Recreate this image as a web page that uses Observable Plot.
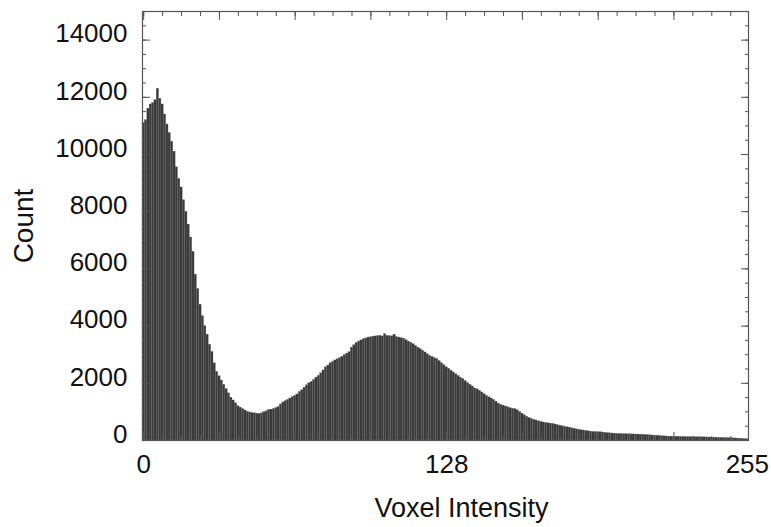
<!DOCTYPE html>
<html>
<head>
<meta charset="utf-8">
<script src="https://cdn.jsdelivr.net/npm/d3@7"></script>
<script src="https://cdn.jsdelivr.net/npm/@observablehq/plot@0.6"></script>
<style>
  html, body { margin: 0; padding: 0; background: #fff; }
</style>
</head>
<body>
<div id="chart"></div>
<script>
// Histogram counts for voxel intensities 0..255
const counts = [
  11100, 11200, 11600, 11750, 11800, 11900, 12300, 11950, 11750, 11400,
  11050, 10750, 10450, 10100, 9550, 9150, 8850, 8400, 8000, 7550,
  7100, 6600, 5800, 5300, 4750, 4350, 4000, 3700, 3350, 3100,
  2700, 2400, 2250, 2100, 1950, 1800, 1650, 1500, 1400, 1300,
  1200, 1150, 1100, 1050, 1000, 980, 960, 950, 940, 930,
  950, 990, 1020, 1070, 1080, 1100, 1130, 1170, 1260, 1330,
  1380, 1420, 1470, 1520, 1560, 1610, 1700, 1760, 1850, 1930,
  2000, 2050, 2120, 2200, 2260, 2350, 2450, 2560, 2620, 2700,
  2750, 2800, 2840, 2880, 2930, 2990, 3040, 3090, 3250, 3330,
  3410, 3460, 3500, 3540, 3570, 3600, 3610, 3630, 3640, 3650,
  3660, 3640, 3720, 3660, 3650, 3640, 3700, 3620, 3600, 3580,
  3560, 3510, 3460, 3420, 3370, 3310, 3250, 3200, 3140, 3080,
  3020, 2960, 2920, 2880, 2850, 2780, 2700, 2630, 2560, 2510,
  2440, 2380, 2320, 2260, 2200, 2150, 2080, 2010, 1950, 1890,
  1820, 1790, 1740, 1680, 1620, 1560, 1510, 1470, 1420, 1360,
  1290, 1250, 1220, 1190, 1160, 1130, 1110, 1100, 1060, 1000,
  940, 880, 830, 790, 750, 720, 700, 670, 650, 630,
  610, 600, 590, 580, 560, 540, 520, 500, 480, 465,
  450, 430, 410, 390, 370, 360, 350, 335, 320, 310,
  300, 295, 290, 290, 280, 270, 260, 250, 245, 240,
  233, 230, 225, 222, 220, 218, 215, 212, 210, 208,
  205, 200, 195, 190, 180, 175, 170, 165, 160, 150,
  145, 140, 138, 135, 132, 130, 128, 125, 122, 120,
  120, 118, 116, 115, 115, 116, 112, 110, 108, 105,
  102, 100, 98, 95, 92, 90, 88, 85, 80, 75,
  72, 68, 62, 56, 50, 45
];

// Axis tick values / labels
const xTickLabels = [0, 128, 255];
const xMinorTicks = d3.range(0, 256, 8);
const xMajorTicks = d3.range(0, 256, 32);
const yTickLabels = [0, 2000, 4000, 6000, 8000, 10000, 12000, 14000];
const yMinorTicks = d3.range(0, 15000, 500);
const yMajorTicks = yTickLabels;

const xLabel = "Voxel Intensity";
const yLabel = "Count";

const table = counts.map((c, i) => ({bin: i, count: c}));

const tickColor = "#555";
const font = "'Liberation Sans', Arial, Helvetica, sans-serif";
const blank = () => "";

const chart = Plot.plot({
  width: 771,
  height: 527,
  marginLeft: 142,
  marginRight: 23,
  marginTop: 11,
  marginBottom: 87,
  style: {fontFamily: font, fontSize: "26px", background: "#fff", color: "#111"},
  x: {domain: [-0.5, 255.5], axis: null},
  y: {domain: [0, 15000], axis: null},
  marks: [
    Plot.rectY(table, {
      x1: d => d.bin - 0.5,
      x2: d => d.bin + 0.5,
      y: "count",
      fill: "#3a3a3a",
      stroke: "#6a6a6a",
      strokeWidth: 0.25
    }),
    // inward minor/major ticks, all four sides
    Plot.axisX({anchor: "top", ticks: xMinorTicks, tickSize: 4, dy: 4, stroke: tickColor, tickFormat: blank, label: null}),
    Plot.axisX({anchor: "top", ticks: xMajorTicks, tickSize: 8, dy: 8, stroke: tickColor, tickFormat: blank, label: null}),
    Plot.axisX({anchor: "bottom", ticks: xMinorTicks, tickSize: 4, dy: -4, stroke: tickColor, tickFormat: blank, label: null}),
    Plot.axisX({anchor: "bottom", ticks: xMajorTicks, tickSize: 8, dy: -8, stroke: tickColor, tickFormat: blank, label: null}),
    Plot.axisY({anchor: "left", ticks: yMinorTicks, tickSize: 4, dx: 4, stroke: tickColor, tickFormat: blank, label: null}),
    Plot.axisY({anchor: "left", ticks: yMajorTicks, tickSize: 8, dx: 8, stroke: tickColor, tickFormat: blank, label: null}),
    Plot.axisY({anchor: "right", ticks: yMinorTicks, tickSize: 4, dx: -4, stroke: tickColor, tickFormat: blank, label: null}),
    Plot.axisY({anchor: "right", ticks: yMajorTicks, tickSize: 8, dx: -8, stroke: tickColor, tickFormat: blank, label: null}),
    // tick labels
    Plot.axisX({anchor: "bottom", ticks: xTickLabels, tickSize: 0, tickPadding: 14, fontSize: 26, tickFormat: d => String(d), label: null}),
    Plot.axisY({anchor: "left", ticks: yTickLabels, tickSize: 0, tickPadding: 15, dy: -6, fontSize: 26, tickFormat: d => String(d), label: null}),
    Plot.frame({stroke: tickColor, strokeWidth: 1.2}),
    // axis titles
    Plot.text([xLabel], {frameAnchor: "bottom", dx: 16, dy: 76, fontSize: 27, textAnchor: "middle", fill: "#111"}),
    Plot.text([yLabel], {frameAnchor: "left", dx: -118, rotate: -90, fontSize: 28, textAnchor: "middle", fill: "#111"})
  ]
});

document.getElementById("chart").appendChild(chart);
</script>
</body>
</html>
